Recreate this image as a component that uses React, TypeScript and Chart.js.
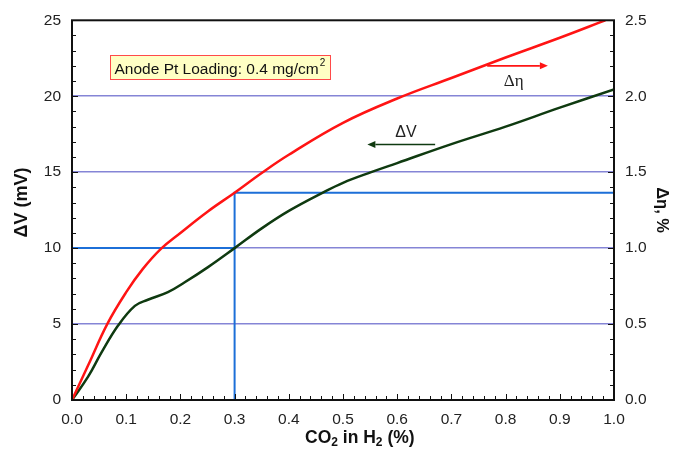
import React, { useEffect, useRef } from 'react';
import { Chart, registerables } from 'chart.js';

Chart.register(...registerables);

// ---- data ----
const dvX = [0, 0.03, 0.054, 0.085, 0.116, 0.14, 0.177, 0.208, 0.251, 0.3, 0.35, 0.4, 0.462, 0.5, 0.552, 0.6, 0.7, 0.8, 0.9, 1.0];
const dvValues = [0, 1.55, 3.1, 4.9, 6.2, 6.6, 7.1, 7.75, 8.75, 10.0, 11.3, 12.45, 13.64, 14.3, 15.0, 15.6, 16.85, 18.0, 19.25, 20.45];

const etaX = [0, 0.03, 0.065, 0.1, 0.13, 0.164, 0.2, 0.25, 0.3, 0.35, 0.4, 0.5, 0.6, 0.7, 0.8, 0.9, 0.984];
const etaValues = [0, 0.23, 0.5, 0.71, 0.86, 0.995, 1.1, 1.24, 1.365, 1.495, 1.615, 1.825, 1.985, 2.12, 2.255, 2.385, 2.5];

// reference (blue) lines
const refDvX = [0, 0.3];
const refDvY = [10, 10];
const refEtaX = [0.3, 0.3, 1.0];
const refEtaY = [0, 1.365, 1.365];

// axes
const xMin = 0, xMax = 1, xStep = 0.1, xMinorStep = 0.02;
const yMin = 0, yMax = 25, yStep = 5, yMinorStep = 1;
const y2Min = 0, y2Max = 2.5, y2Step = 0.5;

const xTitleParts = [['CO', false], ['2', true], [' in H', false], ['2', true], [' (%)', false]] as [string, boolean][];
const yTitle = 'ΔV (mV)';
const y2Title = 'Δη, %';
const noteText = 'Anode Pt Loading: 0.4 mg/cm';
const noteSup = '2';
const etaLabel = 'Δη';
const dvLabel = 'ΔV';

const SANS = '"Liberation Sans", Arial, sans-serif';
const SERIF = '"Liberation Serif", "Times New Roman", serif';
const RED = '#ff1414';
const GREEN = '#0f3a10';
const BLUE = '#1c6fd8';

const toPts = (xs: number[], ys: number[]) => xs.map((x, i) => ({ x, y: ys[i] }));

function arrow(ctx: CanvasRenderingContext2D, x0: number, x1: number, y: number, color: string) {
  const dir = x1 > x0 ? 1 : -1;
  const head = 8;
  ctx.strokeStyle = color;
  ctx.fillStyle = color;
  ctx.lineWidth = 1.6;
  ctx.beginPath();
  ctx.moveTo(x0, y);
  ctx.lineTo(x1 - dir * head, y);
  ctx.stroke();
  ctx.beginPath();
  ctx.moveTo(x1, y);
  ctx.lineTo(x1 - dir * head, y - 3.5);
  ctx.lineTo(x1 - dir * head, y + 3.5);
  ctx.closePath();
  ctx.fill();
}

const decor = {
  id: 'decor',
  afterDatasetsDraw(chart: any) {
    const { ctx, chartArea } = chart;
    const { left, right, top, bottom } = chartArea;
    const x = chart.scales.x;
    const y = chart.scales.y;
    ctx.save();
    // inward ticks
    ctx.strokeStyle = '#111';
    ctx.lineWidth = 1;
    ctx.beginPath();
    for (let v = yMin; v <= yMax + 1e-9; v += yMinorStep) {
      const py = Math.round(y.getPixelForValue(v)) + 0.5;
      const len = Math.abs(v % yStep) < 1e-9 ? 6 : 4;
      ctx.moveTo(left, py); ctx.lineTo(left + len, py);
      ctx.moveTo(right, py); ctx.lineTo(right - len, py);
    }
    const nX = Math.round((xMax - xMin) / xMinorStep);
    for (let i = 0; i <= nX; i++) {
      const v = xMin + i * xMinorStep;
      const px = Math.round(x.getPixelForValue(v)) + 0.5;
      const len = i % 5 === 0 ? 6 : 4;
      ctx.moveTo(px, bottom); ctx.lineTo(px, bottom - len);
    }
    ctx.stroke();
    // frame
    ctx.lineWidth = 2;
    ctx.strokeStyle = '#111';
    ctx.strokeRect(left, top, right - left, bottom - top);

    // note box
    ctx.font = `15.5px ${SANS}`;
    const tw = ctx.measureText(noteText).width;
    ctx.font = `10px ${SANS}`;
    const sw = ctx.measureText(noteSup).width;
    const bx = Math.round(x.getPixelForValue(0.07)) + 0.5;
    const by = Math.round(y.getPixelForValue(22.7)) + 0.5;
    const bw = Math.round(tw + sw + 10);
    const bh = 24;
    ctx.fillStyle = '#ffffc4';
    ctx.fillRect(bx, by, bw, bh);
    ctx.strokeStyle = '#ff4a4a';
    ctx.lineWidth = 1;
    ctx.strokeRect(bx, by, bw, bh);
    ctx.fillStyle = '#111';
    ctx.textBaseline = 'alphabetic';
    ctx.textAlign = 'left';
    ctx.font = `15.5px ${SANS}`;
    ctx.fillText(noteText, bx + 4, by + 18);
    ctx.font = `10px ${SANS}`;
    ctx.fillText(noteSup, bx + 4 + tw + 1, by + 10);

    // arrows
    arrow(ctx, x.getPixelForValue(0.766), x.getPixelForValue(0.878), y.getPixelForValue(22.0), RED);
    arrow(ctx, x.getPixelForValue(0.67), x.getPixelForValue(0.545), y.getPixelForValue(16.82), GREEN);
    ctx.fillStyle = '#222';
    ctx.textAlign = 'center';
    ctx.textBaseline = 'middle';
    ctx.font = `17px ${SERIF}`;
    ctx.fillText(etaLabel, x.getPixelForValue(0.815), y.getPixelForValue(21.0));
    ctx.font = `16px ${SANS}`;
    ctx.fillText(dvLabel, x.getPixelForValue(0.616), y.getPixelForValue(17.6));

    // x title with subscripts
    const big = `bold 17.5px ${SANS}`;
    const small = `bold 12px ${SANS}`;
    let total = 0;
    for (const [t, sub] of xTitleParts) { ctx.font = sub ? small : big; total += ctx.measureText(t).width; }
    let cx = x.getPixelForValue(0.531) - total / 2;
    const ty = 443;
    ctx.textAlign = 'left';
    ctx.textBaseline = 'alphabetic';
    ctx.fillStyle = '#111';
    for (const [t, sub] of xTitleParts) {
      ctx.font = sub ? small : big;
      ctx.fillText(t, cx, sub ? ty + 3 : ty);
      cx += ctx.measureText(t).width;
    }

    // y titles
    ctx.textAlign = 'center';
    ctx.textBaseline = 'middle';
    ctx.save();
    ctx.translate(22, y.getPixelForValue(13));
    ctx.rotate(-Math.PI / 2);
    ctx.font = `bold 18px ${SANS}`;
    ctx.fillText(yTitle, 0, 0);
    ctx.restore();
    ctx.save();
    ctx.translate(662, y.getPixelForValue(12.5));
    ctx.rotate(Math.PI / 2);
    ctx.font = `bold 16.5px ${SANS}`;
    ctx.fillText(y2Title, 0, 0);
    ctx.restore();
    ctx.restore();
  },
};

export default function App() {
  const ref = useRef<HTMLCanvasElement>(null);
  useEffect(() => {
    if (!ref.current) return;
    const chart = new Chart(ref.current, {
      type: 'line',
      data: {
        datasets: [
          { label: 'Δη', data: toPts(etaX, etaValues), yAxisID: 'y2', borderColor: RED, borderWidth: 2.5, pointRadius: 0, tension: 0.4, fill: false },
          { label: 'ΔV', data: toPts(dvX, dvValues), yAxisID: 'y', borderColor: GREEN, borderWidth: 2.5, pointRadius: 0, tension: 0.4, fill: false },
          { label: 'ref ΔV', data: toPts(refDvX, refDvY), yAxisID: 'y', borderColor: BLUE, borderWidth: 2, pointRadius: 0, tension: 0, fill: false },
          { label: 'ref Δη', data: toPts(refEtaX, refEtaY), yAxisID: 'y2', borderColor: BLUE, borderWidth: 2, pointRadius: 0, tension: 0, fill: false },
        ],
      },
      options: {
        animation: false,
        responsive: true,
        maintainAspectRatio: false,
        layout: { padding: { top: 20, left: 0, right: 0, bottom: 0 } },
        plugins: { legend: { display: false }, tooltip: { enabled: false } },
        scales: {
          x: {
            type: 'linear', min: xMin, max: xMax, position: 'bottom',
            ticks: { stepSize: xStep, padding: 10, color: '#222', font: { family: SANS, size: 15.5 }, callback: (v: any) => Number(v).toFixed(1), maxRotation: 0 },
            grid: { display: false, drawTicks: false },
            border: { display: false },
            afterFit: (s: any) => { s.height = 49; },
          },
          y: {
            type: 'linear', min: yMin, max: yMax, position: 'left',
            ticks: { stepSize: yStep, padding: 11, color: '#222', font: { family: SANS, size: 15.5 } },
            grid: { drawTicks: false, lineWidth: 1.5, color: (c: any) => (c.tick && (c.tick.value === yMin || c.tick.value === yMax) ? 'rgba(0,0,0,0)' : '#8585d6') },
            border: { display: false },
            afterFit: (s: any) => { s.width = 72; },
          },
          y2: {
            type: 'linear', min: y2Min, max: y2Max, position: 'right',
            ticks: { stepSize: y2Step, padding: 11, color: '#222', font: { family: SANS, size: 15.5 }, callback: (v: any) => Number(v).toFixed(1) },
            grid: { drawOnChartArea: false, drawTicks: false },
            border: { display: false },
            afterFit: (s: any) => { s.width = 61; },
          },
        },
      } as any,
      plugins: [decor],
    });
    return () => chart.destroy();
  }, []);
  return (
    <div style={{ position: 'fixed', left: 0, top: 0, width: 675, height: 449, background: '#fff' }}>
      <canvas ref={ref} />
    </div>
  );
}
